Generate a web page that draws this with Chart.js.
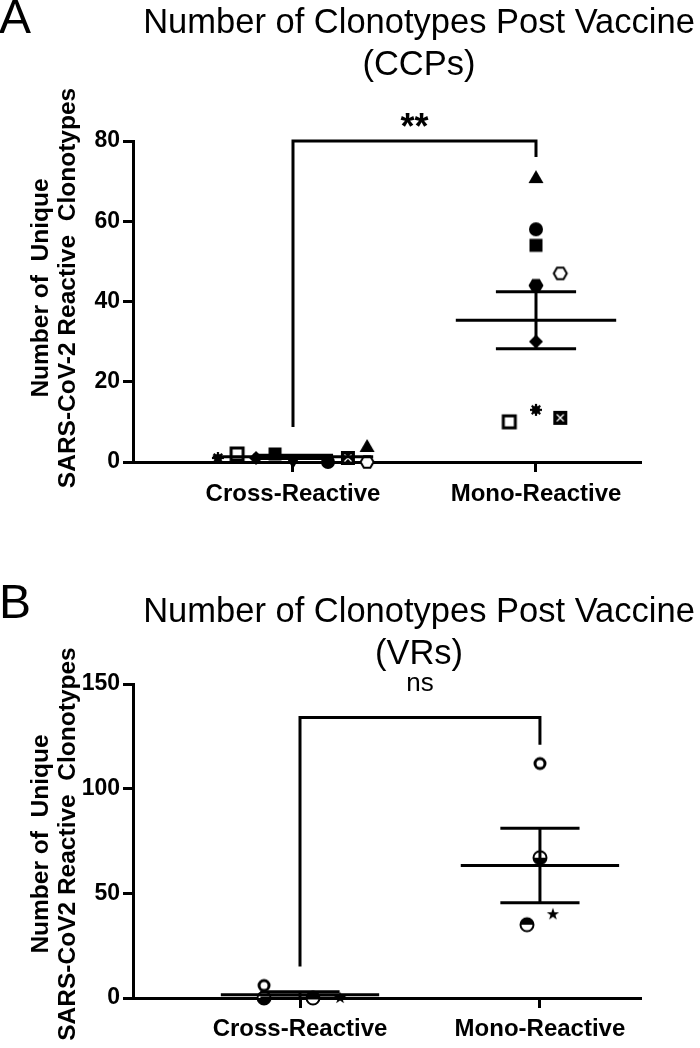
<!DOCTYPE html>
<html><head><meta charset="utf-8">
<script src="https://cdn.jsdelivr.net/npm/chart.js@4.4.1/dist/chart.umd.min.js"></script>
<style>html,body{margin:0;padding:0;background:#fff;} canvas{display:block;}</style>
</head><body>
<canvas id="cA" width="700" height="524"></canvas>
<canvas id="cB" width="700" height="524"></canvas>
<script>
// ---------- data ----------
const categories = ['Cross-Reactive', 'Mono-Reactive'];

// Panel A (CCPs)
const ccpCross = [1, 2, 1, 2, 0, 0, 1, 4, 0];
const ccpMono  = [71, 58, 54, 47, 44, 30, 10, 13, 11];
const ccpMean  = [1.3, 35.3];
const ccpSem   = [0.4, 7.1];
const ccpTicks = [0, 20, 40, 60, 80];
const ccpBracket = [80, 8.7, 76];   // top, left leg end, right leg end
const ccpSig = '**';

// Panel B (VRs)
const vrCross = [6, 0, 0, 0];
const vrMono  = [112, 67, 35, 40];
const vrMean  = [1.5, 63.3];
const vrSem   = [1.5, 17.8];
const vrTicks = [0, 50, 100, 150];
const vrBracket = [134, 15, 121];
const vrSig = 'ns';

// horizontal scatter of points inside a category (category units)
const ccpCrossJitter = [-0.309, -0.23, -0.152, -0.074, 0, 0.144, 0.226, 0.305, 0.305];
const ccpMonoJitter  = [0, 0, 0, 0.1, 0, 0, -0.11, 0, 0.1];
const vrCrossJitter  = [-0.15, -0.15, 0.054, 0.167];
const vrMonoJitter   = [0, 0, -0.054, 0.054];

// marker styles
const ccpCrossMarkers = ['asterisk','squareOpen','diamond','square','triangleDown','circle','boxX','triangle','hexagonOpen'];
const ccpMonoMarkers  = ['triangle','circle','square','hexagonOpen','hexagon','diamond','squareOpen','asterisk','boxX'];
const vrCrossMarkers  = ['circleOpen','halfBottom','halfTop','star'];
const vrMonoMarkers   = ['circleOpen','halfBottom','halfTop','star'];

// ---------- styling ----------
const FONT = '"Liberation Sans", Arial, Helvetica, sans-serif';

function marker(type) {
  const S = 20, c = document.createElement('canvas');
  c.width = S; c.height = S;
  const g = c.getContext('2d'), m = S / 2;
  g.fillStyle = '#000'; g.strokeStyle = '#000';
  const poly = (pts) => { g.beginPath(); pts.forEach((p, i) => i ? g.lineTo(p[0], p[1]) : g.moveTo(p[0], p[1])); g.closePath(); };
  const hex = (r) => { const p = []; for (let k = 0; k < 6; k++) { const a = k * Math.PI / 3; p.push([m + r * Math.cos(a), m + r * Math.sin(a)]); } poly(p); };
  switch (type) {
    case 'circle': g.beginPath(); g.arc(m, m, 7, 0, 2 * Math.PI); g.fill(); break;
    case 'square': g.fillRect(m - 6.5, m - 6.5, 13, 13); break;
    case 'triangle': poly([[m, m - 7], [m + 7.5, m + 6], [m - 7.5, m + 6]]); g.fill(); break;
    case 'triangleDown': poly([[m, m + 7], [m + 7.5, m - 6], [m - 7.5, m - 6]]); g.fill(); break;
    case 'diamond': poly([[m, m - 7], [m + 7, m], [m, m + 7], [m - 7, m]]); g.fill(); break;
    case 'hexagon': hex(7.5); g.fill(); break;
    case 'hexagonOpen': hex(6.5); g.fillStyle = '#fff'; g.fill(); g.lineWidth = 2; g.stroke(); break;
    case 'squareOpen': g.fillStyle = '#fff'; g.fillRect(m - 6, m - 6, 12, 12); g.lineWidth = 3; g.strokeRect(m - 6, m - 6, 12, 12); break;
    case 'asterisk':
      g.beginPath(); g.arc(m, m, 4, 0, 2 * Math.PI); g.fill();
      g.lineWidth = 2.2;
      for (let k = 0; k < 8; k++) { const a = k * Math.PI / 4; g.beginPath(); g.moveTo(m, m); g.lineTo(m + 6 * Math.cos(a), m + 6 * Math.sin(a)); g.stroke(); }
      break;
    case 'boxX':
      g.fillRect(m - 7, m - 7, 14, 14);
      g.strokeStyle = '#fff'; g.lineWidth = 1.3;
      g.beginPath(); g.moveTo(m - 3.5, m - 3.5); g.lineTo(m + 3.5, m + 3.5); g.moveTo(m + 3.5, m - 3.5); g.lineTo(m - 3.5, m + 3.5); g.stroke();
      break;
    case 'circleOpen':
      g.beginPath(); g.arc(m, m, 5, 0, 2 * Math.PI); g.fillStyle = '#fff'; g.fill(); g.lineWidth = 3; g.stroke(); break;
    case 'halfBottom':
      g.beginPath(); g.arc(m, m, 6.5, 0, 2 * Math.PI); g.fillStyle = '#fff'; g.fill();
      g.beginPath(); g.arc(m, m, 6.5, 0, Math.PI); g.closePath(); g.fillStyle = '#000'; g.fill();
      g.beginPath(); g.arc(m, m, 6.5, 0, 2 * Math.PI); g.lineWidth = 2; g.stroke(); break;
    case 'halfTop':
      g.beginPath(); g.arc(m, m, 6.5, 0, 2 * Math.PI); g.fillStyle = '#fff'; g.fill();
      g.beginPath(); g.arc(m, m, 6.5, Math.PI, 2 * Math.PI); g.closePath(); g.fillStyle = '#000'; g.fill();
      g.beginPath(); g.arc(m, m, 6.5, 0, 2 * Math.PI); g.lineWidth = 2; g.stroke(); break;
    case 'star': {
      const p = [];
      for (let k = 0; k < 10; k++) { const r = k % 2 ? 2.6 : 6.5; const a = -Math.PI / 2 + k * Math.PI / 5; p.push([m + r * Math.cos(a), m + r * Math.sin(a)]); }
      poly(p); g.fill(); break;
    }
  }
  return c;
}

const decorPlugin = {
  id: 'decor',
  afterDatasetsDraw(chart, args, o) {
    const { ctx } = chart, x = chart.scales.x, y = chart.scales.y;
    ctx.save();
    ctx.strokeStyle = '#000'; ctx.lineWidth = 3; ctx.lineCap = 'butt';
    const seg = (x1, y1, x2, y2) => { ctx.beginPath(); ctx.moveTo(x1, y1); ctx.lineTo(x2, y2); ctx.stroke(); };
    o.mean.forEach((mu, i) => {
      const c = i + 1, s = o.sem[i];
      const ym = y.getPixelForValue(mu), yt = y.getPixelForValue(mu + s), yb = y.getPixelForValue(mu - s);
      seg(x.getPixelForValue(c - 0.33), ym, x.getPixelForValue(c + 0.33), ym);
      seg(x.getPixelForValue(c - 0.165), yt, x.getPixelForValue(c + 0.165), yt);
      seg(x.getPixelForValue(c - 0.165), yb, x.getPixelForValue(c + 0.165), yb);
      seg(x.getPixelForValue(c), yt, x.getPixelForValue(c), yb);
    });
    // significance bracket
    const b = o.bracket, xl = x.getPixelForValue(1), xr = x.getPixelForValue(2), yt = y.getPixelForValue(b[0]);
    ctx.lineJoin = 'miter';
    ctx.beginPath();
    ctx.moveTo(xl, y.getPixelForValue(b[1])); ctx.lineTo(xl, yt); ctx.lineTo(xr, yt); ctx.lineTo(xr, y.getPixelForValue(b[2]));
    ctx.stroke();
    ctx.fillStyle = '#000'; ctx.textAlign = 'center'; ctx.textBaseline = 'alphabetic';
    ctx.font = o.sigFont;
    ctx.fillText(o.sig, (xl + xr) / 2, yt + o.sigDy);
    ctx.restore();
  },
  afterDraw(chart, args, o) {
    const { ctx } = chart;
    ctx.save();
    ctx.fillStyle = '#000';
    ctx.textBaseline = 'middle';
    ctx.textAlign = 'left';
    ctx.font = '48px ' + FONT;
    ctx.fillText(o.letter, -1, o.letterY);
    ctx.textAlign = 'center';
    ctx.font = '34.5px ' + FONT;
    o.title.forEach((t, i) => ctx.fillText(t, 419, o.titleY[i]));
    // y-axis title (two rotated lines)
    ctx.font = 'bold 24.5px ' + FONT;
    ctx.translate(0, o.yTitleCenter);
    ctx.rotate(-Math.PI / 2);
    ctx.fillText(o.yTitle[0], 0, 41);
    ctx.fillText(o.yTitle[1], 0, 68);
    ctx.restore();
  }
};

function makeChart(id, cfg) {
  const ds = (vals, jit, mk, c) => ({
    data: vals.map((v, i) => ({ x: c + jit[i], y: v })),
    pointStyle: mk.map(marker),
    pointRadius: 7, pointBorderWidth: 0, showLine: false, clip: false,
    backgroundColor: '#000', borderColor: '#000'
  });
  return new Chart(document.getElementById(id), {
    type: 'scatter',
    data: { datasets: [ds(cfg.cross, cfg.crossJit, cfg.crossMk, 1), ds(cfg.mono, cfg.monoJit, cfg.monoMk, 2)] },
    options: {
      responsive: false, animation: false, devicePixelRatio: 1,
      layout: { padding: { top: cfg.top, right: 60, left: 0, bottom: 0 } },
      plugins: { legend: { display: false }, tooltip: { enabled: false }, title: { display: false },
        decor: cfg.decor },
      scales: {
        x: {
          type: 'linear', min: cfg.xMin, max: cfg.xMax,
          afterBuildTicks: s => { s.ticks = [{ value: 1 }, { value: 2 }]; },
          afterFit: s => { s.height = cfg.xH; },
          ticks: { callback: v => categories[Math.round(v) - 1], color: '#000', padding: cfg.xPad, maxRotation: 0, autoSkip: false,
            font: { family: FONT, weight: 'bold', size: 24 } },
          grid: { drawOnChartArea: false, color: '#000', lineWidth: 3, tickLength: 10 },
          border: { color: '#000', width: 3 }
        },
        y: {
          min: cfg.ticks[0], max: cfg.ticks[cfg.ticks.length - 1],
          afterBuildTicks: s => { s.ticks = cfg.ticks.map(v => ({ value: v })); },
          afterFit: s => { s.width = 133; },
          ticks: { color: '#000', padding: 3, font: { family: FONT, weight: 'bold', size: 23 } },
          grid: { drawOnChartArea: false, color: '#000', lineWidth: 3, tickLength: 10 },
          border: { color: '#000', width: 3 }
        }
      }
    },
    plugins: [decorPlugin]
  });
}

makeChart('cA', {
  cross: ccpCross, mono: ccpMono, crossJit: ccpCrossJitter, monoJit: ccpMonoJitter,
  crossMk: ccpCrossMarkers, monoMk: ccpMonoMarkers, ticks: ccpTicks,
  top: 141, xH: 62, xPad: 8, xMin: 0.3416, xMax: 2.428,
  decor: { mean: ccpMean, sem: ccpSem, bracket: ccpBracket, sig: ccpSig, sigFont: 'bold 36px ' + FONT, sigDy: -2,
    letter: 'A', letterY: 20, title: ['Number of Clonotypes Post Vaccine', '(CCPs)'], titleY: [23, 65],
    yTitle: ['Number of  Unique', 'SARS-CoV-2 Reactive  Clonotypes'], yTitleCenter: 288 }
});

makeChart('cB', {
  cross: vrCross, mono: vrMono, crossJit: vrCrossJitter, monoJit: vrMonoJitter,
  crossMk: vrCrossMarkers, monoMk: vrMonoMarkers, ticks: vrTicks,
  top: 160, xH: 50, xPad: 7, xMin: 0.304, xMax: 2.417,
  decor: { mean: vrMean, sem: vrSem, bracket: vrBracket, sig: vrSig, sigFont: '26px ' + FONT, sigDy: -26,
    letter: 'B', letterY: 81, title: ['Number of Clonotypes Post Vaccine', '(VRs)'], titleY: [88, 130],
    yTitle: ['Number of  Unique', 'SARS-CoV2 Reactive  Clonotypes'], yTitleCenter: 320 }
});
</script>
</body></html>
